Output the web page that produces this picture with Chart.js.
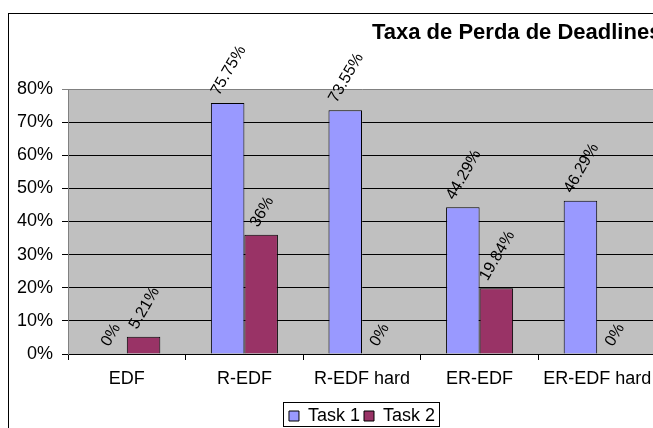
<!DOCTYPE html>
<html>
<head>
<meta charset="utf-8">
<script src="https://cdn.jsdelivr.net/npm/chart.js@4"></script>
<style>
  html, body { margin: 0; padding: 0; background: #fff; overflow: hidden; }
  #wrap { position: relative; width: 740px; height: 428px; }
</style>
</head>
<body>
<div id="wrap"><canvas id="deadlineChart"></canvas></div>
<script>
// Data
const categories = ["EDF", "R-EDF", "R-EDF hard", "ER-EDF", "ER-EDF hard"];
const task1 = [0, 75.75, 73.55, 44.29, 46.29];
const task2 = [5.21, 36, 0, 19.84, 0];
const yTicks = [0, 10, 20, 30, 40, 50, 60, 70, 80];
const titleText = "Taxa de Perda de Deadlines";

const FONT = "'Liberation Sans', Arial, sans-serif";

// Frame, plot background and title
const backdrop = {
  id: "backdrop",
  beforeDraw(chart) {
    const { ctx, chartArea } = chart;
    ctx.save();
    ctx.fillStyle = "#c0c0c0";
    ctx.fillRect(chartArea.left, chartArea.top,
      chartArea.right - chartArea.left, chartArea.bottom - chartArea.top);
    ctx.strokeStyle = "#000";
    ctx.lineWidth = 1;
    ctx.strokeRect(8.5, 13.5, 2000, 2000);
    ctx.restore();
  },
  afterDraw(chart) {
    const { ctx } = chart;
    ctx.save();
    ctx.fillStyle = "#000";
    ctx.font = "bold 22px " + FONT;
    ctx.textBaseline = "alphabetic";
    ctx.textAlign = "left";
    ctx.fillText(titleText, 372, 39);

    // border around legend
    const lg = chart.legend;
    if (lg && lg.legendHitBoxes.length) {
      const boxes = lg.legendHitBoxes;
      const x0 = boxes[0].left - 6;
      const last = boxes[boxes.length - 1];
      const x1 = last.left + last.width + 4;
      ctx.strokeStyle = "#000";
      ctx.strokeRect(Math.round(x0) + 0.5, 402.5, Math.round(x1 - x0), 24);
    }
    ctx.restore();
  }
};

// Rotated value labels above each bar
const valueLabels = {
  id: "valueLabels",
  afterDatasetsDraw(chart) {
    const { ctx } = chart;
    const ang = Math.PI / 3;
    ctx.save();
    ctx.font = "16px " + FONT;
    ctx.fillStyle = "#000";
    ctx.textAlign = "center";
    ctx.textBaseline = "middle";
    chart.data.datasets.forEach((ds, di) => {
      const meta = chart.getDatasetMeta(di);
      meta.data.forEach((bar, i) => {
        const text = ds.data[i] + "%";
        const w = ctx.measureText(text).width;
        const h = 12;
        const bh = w * Math.sin(ang) + h * Math.cos(ang);
        ctx.save();
        ctx.translate(bar.x + 1, bar.y - bh / 2 - 6);
        ctx.rotate(-ang);
        ctx.fillText(text, 0, 0);
        ctx.restore();
      });
    });
    ctx.restore();
  }
};

const ctx = document.getElementById("deadlineChart").getContext("2d");
const chart = new Chart(ctx, {
  type: "bar",
  data: {
    labels: categories,
    datasets: [
      {
        label: "Task 1",
        data: task1,
        backgroundColor: "#9999ff",
        borderColor: "#000",
        borderWidth: 1,
        borderSkipped: "bottom",
      },
      {
        label: "Task 2",
        data: task2,
        backgroundColor: "#993366",
        borderColor: "#000",
        borderWidth: 1,
        borderSkipped: "bottom",
      },
    ],
  },
  options: {
    responsive: true,
    maintainAspectRatio: false,
    animation: false,
    devicePixelRatio: 1,
    layout: {
      padding: { left: 8, top: 89, right: 84, bottom: -7 },
    },
    datasets: {
      bar: { categoryPercentage: 0.57, barPercentage: 1 },
    },
    scales: {
      x: {
        grid: {
          offset: true,
          drawOnChartArea: false,
          tickLength: 6,
          color: "#000",
        },
        border: { color: "#000" },
        ticks: {
          color: "#000",
          font: { family: FONT, size: 18 },
          padding: 8,
          maxRotation: 0,
          autoSkip: false,
        },
        afterFit(axis) { axis.height = 49; },
      },
      y: {
        min: 0,
        max: 80,
        afterBuildTicks(axis) {
          axis.ticks = yTicks.map((v) => ({ value: v }));
        },
        grid: {
          tickLength: 6,
          color: (c) => (c.tick && c.tick.value === 80 ? "#808080" : "#000"),
        },
        border: { color: "#808080" },
        ticks: {
          color: "#000",
          font: { family: FONT, size: 18 },
          padding: 9,
          callback: (v) => v + "%",
        },
        afterFit(axis) { axis.width = 60; },
      },
    },
    plugins: {
      title: { display: false },
      tooltip: { enabled: false },
      legend: {
        position: "bottom",
        fullSize: false,
        labels: {
          color: "#000",
          font: { family: FONT, size: 18 },
          boxWidth: 10,
          boxHeight: 10,
          padding: 4,
          useBorderRadius: false,
          generateLabels(c) {
            return c.data.datasets.map((ds, i) => ({
              text: ds.label,
              fillStyle: ds.backgroundColor,
              strokeStyle: "#000",
              lineWidth: 1,
              datasetIndex: i,
              fontColor: "#000",
            }));
          },
        },
      },
    },
  },
  plugins: [backdrop, valueLabels],
});
</script>
</body>
</html>
